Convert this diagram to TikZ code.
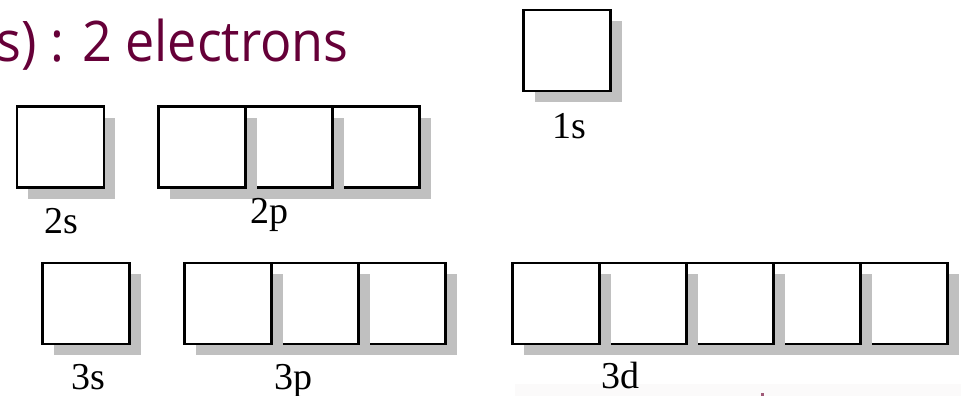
\documentclass[tikz,border=0pt]{standalone}
\usepackage{graphicx}
\usepackage{fontspec}
\setmainfont{Liberation Serif}
\newfontfamily\titlefont{Open Sans}
\definecolor{titlecol}{RGB}{102,0,56}
\definecolor{shadowgray}{RGB}{192,192,192}
\definecolor{faintbg}{RGB}{251,250,250}
\definecolor{faintmark}{RGB}{160,90,120}
\begin{document}
\begin{tikzpicture}[x=1pt,y=-1pt,
  orb/.style={draw=black, line width=2.6pt, fill=white, minimum width=87pt, minimum height=81pt,
    inner sep=0pt, outer sep=0pt,
    preaction={draw=none, fill=shadowgray, transform canvas={shift={(11pt,-11pt)}}}},
  orblabel/.style={anchor=base, inner sep=0pt, font=\fontsize{38}{40}\selectfont},
  titletext/.style={anchor=base east, inner sep=0pt, text=titlecol, font=\titlefont\fontsize{56}{60}\selectfont}]
\clip (0,0) rectangle (961,396);
\useasboundingbox (0,0) rectangle (961,396);
\fill[white] (0,0) rectangle (961,396);
\fill[faintbg] (515,384) rectangle (961,396);
\fill[faintmark] (761,393) rectangle (764,396);

\node[titletext] (title) at (349,62) {\scalebox{0.93}[1]{s) : 2 electrons}};

% 1s
\node[orb] (s1) at (567,50.5) {};
\node[orblabel] (l1s) at (569,138) {1s};

% 2s, 2p
\node[orb] (s2) at (60.5,147) {};
\node[orb] (p2c) at (376,147) {};
\node[orb] (p2b) at (289,147) {};
\node[orb] (p2a) at (202,147) {};
\node[orblabel] (l2s) at (61,233) {2s};
\node[orblabel] (l2p) at (269,223) {2p};

% 3s, 3p, 3d
\node[orb] (s3) at (86,303.5) {};
\node[orb] (p3c) at (402,303.5) {};
\node[orb] (p3b) at (315,303.5) {};
\node[orb] (p3a) at (228,303.5) {};
\node[orb] (d3e) at (904,303.5) {};
\node[orb] (d3d) at (817,303.5) {};
\node[orb] (d3c) at (730,303.5) {};
\node[orb] (d3b) at (643,303.5) {};
\node[orb] (d3a) at (556,303.5) {};
\node[orblabel] (l3s) at (88,389) {3s};
\node[orblabel] (l3p) at (293,389) {3p};
\node[orblabel] (l3d) at (620,388) {3d};
\end{tikzpicture}
\end{document}
